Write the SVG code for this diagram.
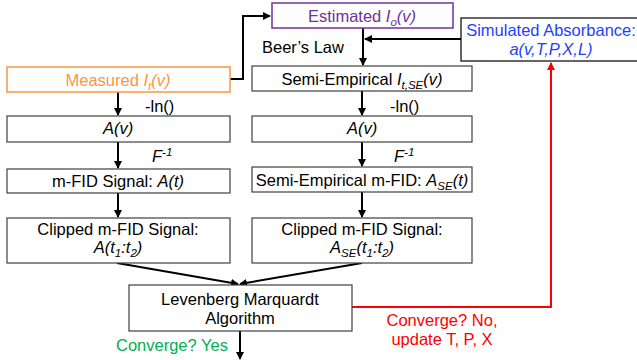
<svg xmlns="http://www.w3.org/2000/svg" width="637" height="360" viewBox="0 0 637 360">
  <style>
    text { font-family: "Liberation Sans", Arial, sans-serif; font-size: 16.5px; fill: #000; }
    .box { fill: #fff; stroke: #404040; stroke-width: 1.2; }
    .c { text-anchor: middle; }
    .wire { fill: none; stroke: #000; stroke-width: 2; }
    .red { fill: none; stroke: #ff0000; stroke-width: 2; }
    .sub { font-size: 11.5px; }
  </style>
  <defs>
    <marker id="ah" viewBox="0 0 8 8" refX="7" refY="4" markerWidth="4" markerHeight="4" orient="auto" markerUnits="strokeWidth">
      <path d="M0,0 L8,4 L0,8 Z" fill="#000"/>
    </marker>
    <marker id="ahr" viewBox="0 0 8 8" refX="7" refY="4" markerWidth="4" markerHeight="4" orient="auto" markerUnits="strokeWidth">
      <path d="M0,0 L8,4 L0,8 Z" fill="#ff0000"/>
    </marker>
  </defs>

  <!-- connectors -->
  <g id="connectors">
    <polyline class="wire" points="230,79 243,79 243,16 270,16" marker-end="url(#ah)"/>
    <line class="wire" x1="363" y1="28" x2="363" y2="65" marker-end="url(#ah)"/>
    <line class="wire" x1="461" y1="39" x2="365" y2="39" marker-end="url(#ah)"/>
    <line class="wire" x1="118" y1="92" x2="118" y2="115" marker-end="url(#ah)"/>
    <line class="wire" x1="362" y1="91" x2="362" y2="115" marker-end="url(#ah)"/>
    <line class="wire" x1="118" y1="142" x2="118" y2="168" marker-end="url(#ah)"/>
    <line class="wire" x1="362" y1="142" x2="362" y2="166" marker-end="url(#ah)"/>
    <line class="wire" x1="118" y1="193" x2="118" y2="217" marker-end="url(#ah)"/>
    <line class="wire" x1="362" y1="192" x2="362" y2="217" marker-end="url(#ah)"/>
    <line class="wire" x1="117" y1="263" x2="238" y2="284" marker-end="url(#ah)"/>
    <line class="wire" x1="362" y1="263" x2="240" y2="284" marker-end="url(#ah)"/>
    <line class="wire" x1="240" y1="331" x2="240" y2="359" marker-end="url(#ah)"/>
    <polyline class="red" points="352,307 551,307 551,63" marker-end="url(#ahr)"/>
  </g>

  <!-- edge labels -->
  <g id="labels">
    <text x="262" y="53">Beer’s Law</text>
    <text x="145" y="112">-ln()</text>
    <text x="390" y="112">-ln()</text>
    <text x="152" y="162" font-style="italic">F<tspan class="sub" dy="-6">-1</tspan></text>
    <text x="394" y="162" font-style="italic">F<tspan class="sub" dy="-6">-1</tspan></text>
    <text x="116" y="351" style="fill:#00b050">Converge? Yes</text>
    <text x="442" y="326" class="c" style="fill:#ff0000">Converge? No,</text>
    <text x="442" y="345" class="c" style="fill:#ff0000">update T, P, X</text>
  </g>

  <g id="measured">
    <rect x="7" y="67" width="223" height="25" style="fill:#fff;stroke:#f79646;stroke-width:1.5"/>
    <text x="118" y="86" class="c" style="fill:#f79646">Measured <tspan font-style="italic" style="fill:#f79646">I<tspan class="sub" dy="4" style="fill:#f79646">t</tspan><tspan dy="-4" style="fill:#f79646">(v)</tspan></tspan></text>
  </g>

  <g id="estimated">
    <rect x="272" y="3" width="181" height="25" style="fill:#fff;stroke:#7030a0;stroke-width:1.5"/>
    <text x="362" y="22" class="c" style="fill:#7030a0">Estimated <tspan font-style="italic" style="fill:#7030a0">I<tspan class="sub" dy="4" style="fill:#7030a0">o</tspan><tspan dy="-4" style="fill:#7030a0">(v)</tspan></tspan></text>
  </g>

  <g id="simulated">
    <rect x="461" y="18" width="178" height="43" style="fill:#fff;stroke:#000;stroke-width:1.2"/>
    <text x="551" y="36" class="c" style="fill:#1f3fff">Simulated Absorbance:</text>
    <text x="551" y="55" class="c" font-style="italic" style="fill:#1f3fff">a(v,T,P,X,L)</text>
  </g>

  <g id="semi-empirical">
    <rect x="252" y="66" width="220" height="25" class="box"/>
    <text x="362" y="85" class="c">Semi-Empirical <tspan font-style="italic">I<tspan class="sub" dy="4">t,SE</tspan><tspan dy="-4">(v)</tspan></tspan></text>
  </g>

  <g id="absorbance-left">
    <rect x="7" y="116" width="223" height="26" class="box"/>
    <text x="118" y="134" class="c" font-style="italic">A(v)</text>
  </g>

  <g id="absorbance-right">
    <rect x="252" y="116" width="220" height="26" class="box"/>
    <text x="362" y="134" class="c" font-style="italic">A(v)</text>
  </g>

  <g id="mfid-left">
    <rect x="7" y="169" width="223" height="24" class="box"/>
    <text x="118" y="187" class="c">m-FID Signal: <tspan font-style="italic">A(t)</tspan></text>
  </g>

  <g id="mfid-right">
    <rect x="252" y="167" width="220" height="25" class="box"/>
    <text x="362" y="186" class="c">Semi-Empirical m-FID: <tspan font-style="italic">A<tspan class="sub" dy="4">SE</tspan><tspan dy="-4">(t)</tspan></tspan></text>
  </g>

  <g id="clipped-left">
    <rect x="7" y="218" width="223" height="45" class="box"/>
    <text x="118" y="235" class="c">Clipped m-FID Signal:</text>
    <text x="118" y="253" class="c" font-style="italic">A(t<tspan class="sub" dy="4">1</tspan><tspan dy="-4">:t</tspan><tspan class="sub" dy="4">2</tspan><tspan dy="-4">)</tspan></text>
  </g>

  <g id="clipped-right">
    <rect x="252" y="218" width="220" height="45" class="box"/>
    <text x="362" y="235" class="c">Clipped m-FID Signal:</text>
    <text x="362" y="253" class="c" font-style="italic">A<tspan class="sub" dy="4">SE</tspan><tspan dy="-4">(t</tspan><tspan class="sub" dy="4">1</tspan><tspan dy="-4">:t</tspan><tspan class="sub" dy="4">2</tspan><tspan dy="-4">)</tspan></text>
  </g>

  <g id="levenberg-marquardt">
    <rect x="129" y="285" width="223" height="46" class="box"/>
    <text x="240" y="305" class="c">Levenberg Marquardt</text>
    <text x="240" y="324" class="c">Algorithm</text>
  </g>
</svg>
